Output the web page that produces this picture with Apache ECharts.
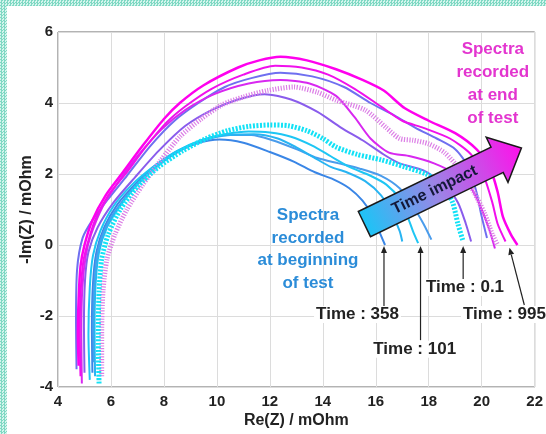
<!DOCTYPE html>
<html>
<head>
<meta charset="utf-8">
<script src="https://cdn.jsdelivr.net/npm/echarts@6/dist/echarts.min.js"></script>
<style>
html,body{margin:0;padding:0;background:#fff;}
#chart{position:absolute;left:0;top:0;width:546px;height:434px;}
.edge{position:absolute;background:repeating-conic-gradient(#7fd8c3 0 25%, #d4f5ed 0 50%) 0 0/3px 3px;}
</style>
</head>
<body>
<div id="chart"></div>
<div class="edge" style="left:0;top:0;width:7px;height:434px"></div>
<div class="edge" style="left:0;top:0;width:546px;height:6px"></div>
<script>
// Nyquist spectra, Re(Z) vs -Im(Z)
var magTop = [[4.78,-3.4],[4.75,-2.5],[4.78,-1.5],[4.85,-0.6],[5.0,0],[5.3,0.7],[5.8,1.4],[6.4,2.0],[7.2,2.8],[8.0,3.55],[8.6,4.0],[9.5,4.5],[10.8,5.0],[11.6,5.2],[12.4,5.3],[13.4,5.2],[14.5,4.95],[15.5,4.65],[16.3,4.35],[17.1,3.85],[18.0,3.5],[19.0,3.15],[19.8,2.7],[20.3,2.2],[20.6,1.5],[20.8,0.8],[21.1,0.3],[21.35,0]];
var mag2 = [[4.85,-3.7],[4.82,-2.5],[4.85,-1.4],[4.95,-0.5],[5.1,0],[5.4,0.7],[5.9,1.4],[6.55,2.0],[7.3,2.75],[8.1,3.45],[8.8,3.9],[9.8,4.4],[11.0,4.8],[12.2,5.05],[13.2,5.0],[14.2,4.8],[15.2,4.4],[16.2,3.9],[17.0,3.5],[17.8,3.3],[18.8,3.0],[19.6,2.55],[20.1,1.9],[20.4,1.2],[20.6,0.6],[20.9,0.1]];
var mag3 = [[4.9,-3.9],[4.88,-2.5],[4.92,-1.2],[5.05,-0.3],[5.25,0.3],[5.7,1.1],[6.3,1.8],[7.0,2.5],[7.9,3.25],[8.8,3.8],[9.9,4.25],[11.2,4.55],[12.4,4.65],[13.5,4.55],[14.5,4.2],[15.2,3.6],[15.8,3.0],[16.5,2.6],[17.3,2.5],[18.2,2.3],[19.0,2.0],[19.6,1.6],[20.0,1.0],[20.3,0.4],[20.5,-0.1]];
var violet1 = [[4.7,-3.5],[4.68,-2.2],[4.72,-0.7],[4.93,0.2],[5.3,0.7],[5.9,1.3],[6.6,1.95],[7.5,2.8],[8.4,3.5],[9.3,4.0],[10.3,4.45],[11.3,4.7],[12.4,4.85],[13.6,4.75],[14.8,4.45],[15.8,4.0],[16.7,3.65],[17.5,3.3],[18.3,3.0],[19.0,2.7],[19.5,2.2],[19.8,1.5],[20.0,0.8],[20.2,0.2]];
var violet2 = [[5.0,-3.6],[4.98,-2.3],[5.02,-1.0],[5.15,-0.2],[5.5,0.5],[6.1,1.2],[6.9,1.9],[7.8,2.65],[8.8,3.35],[9.8,3.8],[10.8,4.1],[11.8,4.25],[12.8,4.1],[13.8,3.75],[14.7,3.3],[15.5,2.95],[16.3,2.55],[16.9,2.3],[17.8,2.1],[18.6,1.7],[19.1,1.2],[19.4,0.6],[19.6,0.1]];
var pinkDots = [[5.65,-3.7],[5.65,-2.5],[5.7,-1.3],[5.85,-0.4],[6.15,0.3],[6.6,1.0],[7.2,1.7],[7.9,2.4],[8.6,3.05],[9.4,3.55],[10.2,3.95],[11.0,4.17],[11.9,4.35],[12.9,4.45],[13.8,4.3],[14.5,4.08],[15.6,3.8],[16.4,3.3],[16.9,3.0],[17.4,2.95],[18.0,2.85],[18.6,2.6],[19.2,2.1],[19.7,1.5],[20.1,0.9],[20.4,0.3],[20.6,0.0]];
var cyanDots = [[5.55,-3.9],[5.52,-2.6],[5.55,-1.3],[5.65,-0.4],[5.9,0.3],[6.35,1.0],[7.0,1.65],[7.8,2.2],[8.7,2.65],[9.6,3.0],[10.4,3.22],[11.2,3.34],[12.0,3.38],[12.7,3.36],[13.4,3.22],[14.0,3.0],[14.5,2.76],[15.3,2.55],[16.2,2.4],[17.1,2.2],[17.9,2.0],[18.5,1.7],[18.9,1.2],[19.1,0.6],[19.3,0.1]];
var cyan101 = [[5.2,-3.8],[5.15,-2.5],[5.2,-1.2],[5.32,-0.3],[5.6,0.4],[6.1,1.1],[6.8,1.7],[7.6,2.2],[8.5,2.65],[9.4,2.95],[10.3,3.12],[11.2,3.2],[12.0,3.17],[12.8,3.05],[13.6,2.8],[14.3,2.5],[15.0,2.2],[15.8,1.95],[16.4,1.7],[16.9,1.3],[17.2,0.8],[17.4,0.4],[17.6,0.05]];
var blue358 = [[5.3,-3.6],[5.28,-2.4],[5.32,-1.1],[5.45,-0.2],[5.75,0.5],[6.25,1.15],[6.9,1.7],[7.6,2.2],[8.4,2.6],[9.2,2.85],[10.1,2.97],[11.0,2.88],[12.0,2.62],[12.9,2.35],[13.7,2.05],[14.4,1.85],[15.0,1.6],[15.5,1.25],[15.9,0.8],[16.15,0.35],[16.35,0.0]];
var cyan4 = [[5.4,-3.7],[5.38,-2.4],[5.42,-1.1],[5.55,-0.2],[5.85,0.5],[6.35,1.1],[7.0,1.7],[7.8,2.25],[8.7,2.7],[9.6,2.98],[10.5,3.1],[11.4,3.12],[12.3,3.0],[13.0,2.75],[13.7,2.45],[14.3,2.2],[14.9,2.05],[15.6,1.8],[16.2,1.4],[16.6,0.9],[16.9,0.4],[17.0,0.1]];
var blue5 = [[5.35,-3.3],[5.33,-2.2],[5.38,-1.0],[5.5,-0.2],[5.8,0.5],[6.3,1.1],[6.95,1.7],[7.7,2.2],[8.6,2.65],[9.5,2.95],[10.4,3.1],[11.3,3.1],[12.1,2.95],[13.0,2.7],[13.8,2.45],[14.6,2.3],[15.4,2.15],[16.2,1.95],[16.9,1.6],[17.4,1.1],[17.8,0.6],[18.1,0.15]];

var timeLabels = ['Time : 358', 'Time : 101', 'Time : 0.1', 'Time : 995'];

var chart = echarts.init(document.getElementById('chart'));

function line(data, color, width, dash) {
  return {
    type: 'line',
    data: data,
    showSymbol: false,
    smooth: 0.25,
    lineStyle: { color: color, width: width, type: dash || 'solid' }
  };
}

var FONT = '"Liberation Sans", Arial, sans-serif';

chart.setOption({
  animation: false,
  grid: { left: 58, right: 6, top: 32, bottom: 47, show: true, borderColor: '#666', borderWidth: 1 },
  xAxis: {
    type: 'value', min: 4, max: 22, interval: 2,
    name: 'Re(Z) / mOhm', nameLocation: 'middle', nameGap: 26, nameMoveOverlap: false,
    nameTextStyle: { fontFamily: FONT, fontWeight: 'bold', fontSize: 16, color: '#222' },
    axisLine: { show: false }, axisTick: { show: false },
    axisLabel: { margin: 7, fontFamily: FONT, fontWeight: 'bold', fontSize: 15, color: '#222' },
    splitLine: { lineStyle: { color: '#dcdcdc' } }
  },
  yAxis: {
    type: 'value', min: -4, max: 6, interval: 2,
    name: '-Im(Z) / mOhm', nameLocation: 'middle', nameGap: 23, nameMoveOverlap: false,
    nameTextStyle: { fontFamily: FONT, fontWeight: 'bold', fontSize: 16, color: '#222' },
    axisLine: { show: false }, axisTick: { show: false },
    axisLabel: { margin: 5, fontFamily: FONT, fontWeight: 'bold', fontSize: 15, color: '#222' },
    splitLine: { lineStyle: { color: '#dcdcdc' } }
  },
  series: [
    line(blue358, '#3a86e6', 2),
    line(blue5, '#4a9cec', 2),
    line(cyan4, '#28b4f2', 2),
    line(cyan101, '#1ec6f4', 2),
    line(violet2, '#8a5cec', 2),
    line(violet1, '#6f6ff0', 2),
    line(mag3, '#d828f0', 2),
    line(mag2, '#f010ec', 2),
    line(magTop, '#ff00ee', 2.5),
    line(pinkDots, '#dc80e6', 5, [1.2, 1.5]),
    line(cyanDots, '#12e2f6', 5, [2, 1.5])
  ]
});

function px(x, y) { return chart.convertToPixel({ gridIndex: 0 }, [x, y]); }

var g = [];
function text(pos, str, fill, size, extra) {
  var s = { text: str, fill: fill, font: 'bold ' + size + 'px ' + FONT, align: 'center', verticalAlign: 'top' };
  for (var k in extra) s[k] = extra[k];
  g.push({ type: 'text', x: pos[0], y: pos[1], z: 100, style: s });
}
function pointer(from, to) {
  var a = px(from[0], from[1]), b = px(to[0], to[1]);
  var ang = Math.atan2(b[1] - a[1], b[0] - a[0]);
  var L = 7, W = 3;
  var bx = b[0] - L * Math.cos(ang), by = b[1] - L * Math.sin(ang);
  g.push({ type: 'line', z: 100, shape: { x1: a[0], y1: a[1], x2: bx, y2: by }, style: { stroke: '#222', lineWidth: 1.2 } });
  g.push({ type: 'polygon', z: 100, shape: { points: [[b[0], b[1]],
    [bx + W * Math.sin(ang), by - W * Math.cos(ang)], [bx - W * Math.sin(ang), by + W * Math.cos(ang)]] },
    style: { fill: '#222' } });
}

text(px(20.42, 5.83), 'Spectra\nrecorded\nat end\nof test', '#e335cf', 17, { lineHeight: 23 });
text(px(13.44, 1.15), 'Spectra\nrecorded\nat beginning\nof test', '#2b8cd8', 17, { lineHeight: 22.5 });

var lp = [px(15.31, -1.72), px(17.47, -2.7), px(19.37, -0.96), px(19.22, -1.72)];
for (var i = 0; i < 4; i++) {
  text(lp[i], timeLabels[i], '#222', 17, { backgroundColor: '#fff', padding: [0, 2], align: i === 3 ? 'left' : 'center' });
}
pointer([16.31, -1.72], [16.31, -0.03]);
pointer([17.69, -2.68], [17.69, -0.03]);
pointer([19.3, -0.96], [19.3, -0.03]);
pointer([21.61, -1.69], [21.05, -0.08]);

// big "Time impact" arrow
var tail = px(15.57, 0.59), tip = px(21.5, 2.73);
var len = Math.hypot(tip[0] - tail[0], tip[1] - tail[1]);
var rot = Math.atan2(tail[1] - tip[1], tip[0] - tail[0]);
g.push({
  type: 'group', x: tail[0], y: tail[1], rotation: rot, z: 90,
  children: [
    { type: 'polygon', z: 90, shape: { points: [[0, -14], [len - 27, -14], [len - 27, -25], [len, 0], [len - 27, 25], [len - 27, 14], [0, 14]] },
      style: { stroke: '#1a1a1a', lineWidth: 1.5,
        fill: new echarts.graphic.LinearGradient(0, 0, 1, 0, [
          { offset: 0, color: '#1cc4f6' }, { offset: 0.45, color: '#9a86e6' }, { offset: 1, color: '#ff10ea' }]) } },
    { type: 'text', z: 91, x: 78, y: 0, style: { text: 'Time impact', font: 'bold 16px ' + FONT, fill: '#141838', align: 'center', verticalAlign: 'middle' } }
  ]
});

chart.setOption({ graphic: g });
</script>
</body>
</html>
